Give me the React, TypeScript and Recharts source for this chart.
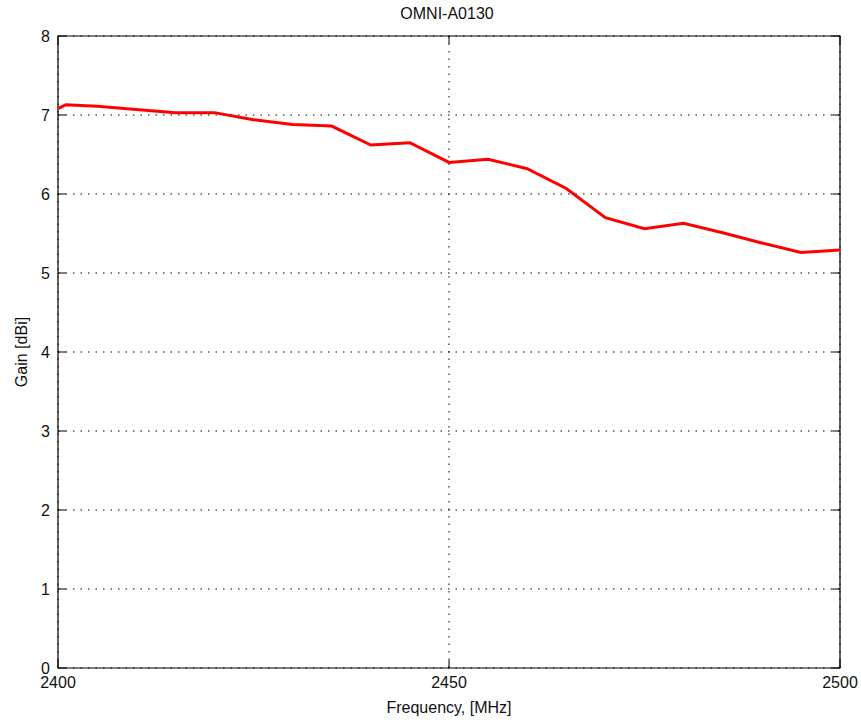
import {
  LineChart,
  Line,
  XAxis,
  YAxis,
  CartesianGrid,
  ReferenceArea,
  ReferenceLine,
} from 'recharts'

const frequency = [2400, 2401, 2405, 2410, 2415, 2420, 2425, 2430, 2435, 2440, 2445, 2450, 2455, 2460, 2465, 2470, 2475, 2480, 2485, 2490, 2495, 2500]
const gain = [7.08, 7.13, 7.11, 7.07, 7.03, 7.03, 6.94, 6.88, 6.86, 6.62, 6.65, 6.40, 6.44, 6.32, 6.07, 5.70, 5.56, 5.63, 5.51, 5.38, 5.26, 5.29]
const xTicks = [2400, 2450, 2500]
const yTicks = [0, 1, 2, 3, 4, 5, 6, 7, 8]

const data = frequency.map((f, i) => ({freq: f, gain: gain[i]}))

const font = 'Arial, "Liberation Sans", sans-serif'
const tickStyle = {fontSize: 16, fill: '#111', fontFamily: font}

// fixed so the page never gets scrollbars
export default function App() {
  return (
    <div style={{position: 'fixed', left: 0, top: 0, width: 861, height: 724, fontFamily: font, background: '#fff'}}>
      <div style={{
        position: 'absolute', left: 0, width: 894, top: 5, textAlign: 'center',
        fontSize: 16, color: '#111',
      }}>OMNI-A0130</div>
      <LineChart width={861} height={724} data={data}
                 margin={{top: 36, right: 21, left: 0, bottom: 0}}>
        <CartesianGrid stroke='#000' strokeDasharray='1.5 6' />
        <XAxis dataKey='freq' type='number' domain={[2400, 2500]} ticks={xTicks}
               height={56} tickLine={false} axisLine={false} tick={tickStyle} tickMargin={3}
               label={{value: 'Frequency, [MHz]', position: 'insideBottom', offset: 11,
                 style: {fontSize: 16, fill: '#111', fontFamily: font}}} />
        <YAxis type='number' domain={[0, 8]} ticks={yTicks} width={58}
               tickLine={false} axisLine={false} tick={tickStyle}
               label={{value: 'Gain [dBi]', angle: -90, position: 'insideLeft', offset: 21,
                 style: {textAnchor: 'middle', fontSize: 16, fill: '#111', fontFamily: font}}} />
        <ReferenceArea x1={2400} x2={2500} y1={0} y2={8} fill='none' stroke='#000' strokeWidth={1.2} />
        {yTicks.map(v => (
          <ReferenceLine key={'yl' + v} segment={[{x: 2400, y: v}, {x: 2401, y: v}]} stroke='#000' />
        ))}
        {yTicks.map(v => (
          <ReferenceLine key={'yr' + v} segment={[{x: 2499, y: v}, {x: 2500, y: v}]} stroke='#000' />
        ))}
        {xTicks.map(v => (
          <ReferenceLine key={'xb' + v} segment={[{x: v, y: 0}, {x: v, y: 0.1}]} stroke='#000' />
        ))}
        {xTicks.map(v => (
          <ReferenceLine key={'xt' + v} segment={[{x: v, y: 7.9}, {x: v, y: 8}]} stroke='#000' />
        ))}
        <Line type='linear' dataKey='gain' stroke='#ff0000' strokeWidth={3}
              dot={false} isAnimationActive={false} />
      </LineChart>
    </div>
  )
}
